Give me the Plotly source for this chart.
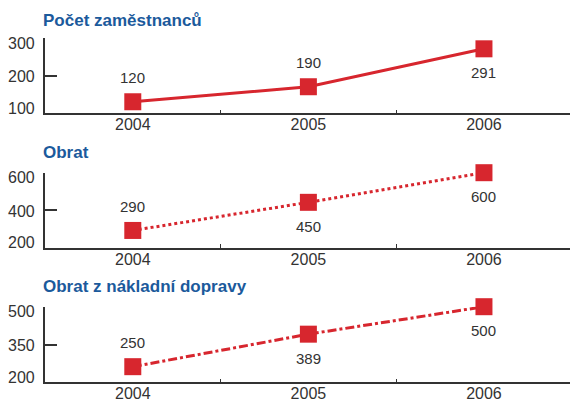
import plotly.graph_objects as go

years = ["2004", "2005", "2006"]
titles = ["Počet zaměstnanců", "Obrat", "Obrat z nákladní dopravy"]

emp_values = [131, 171, 272]
emp_labels = ["120", "190", "291"]
turn_values = [292, 442, 600]
turn_labels = ["290", "450", "600"]
freight_values = [262, 391, 500]
freight_labels = ["250", "389", "500"]

y_ticks = [[100, 200, 300], [200, 400, 600], [200, 350, 500]]
label_side = [["above", "above", "below"], ["above", "below", "below"], ["above", "below", "below"]]

series = [emp_values, turn_values, freight_values]
labels = [emp_labels, turn_labels, freight_labels]
dashes = ["solid", "dot", "dashdot"]

RED = "#d7262e"
BLUE = "#1b5a9c"
DARK = "#333333"
FONT = "Liberation Sans, Arial, sans-serif"

W, H = 570, 401
# panel pixel boxes (top, bottom) from the top of the page
panels = [(38.3, 113.4), (172.7, 247.7), (306.7, 382.3)]
title_y = [20, 152, 286]
ytick_shift = [5, -1, -5]  # bottom, middle, top label nudges (px)

fig = go.Figure()
annotations = []
for i in range(3):
    xa = "x" if i == 0 else f"x{i+1}"
    ya = "y" if i == 0 else f"y{i+1}"
    xi = list(range(len(years)))
    fig.add_trace(go.Scatter(
        x=xi, y=series[i], xaxis=xa, yaxis=ya, mode="lines+markers",
        line=dict(color=RED, width=3, dash=dashes[i]),
        marker=dict(symbol="square", size=17, color=RED),
        cliponaxis=False, showlegend=False, hoverinfo="skip"))
    for j, (v, t) in enumerate(zip(series[i], labels[i])):
        shift = 24 if label_side[i][j] == "above" else -24
        annotations.append(dict(
            x=j, y=v, xref=xa, yref=ya, text=t, showarrow=False,
            yshift=shift, font=dict(family=FONT, size=15, color=DARK)))
    for k, tv in enumerate(y_ticks[i]):
        annotations.append(dict(
            x=37 / W, y=tv, xref="paper", yref=ya, text=str(tv),
            xanchor="right", yanchor="middle", showarrow=False,
            yshift=ytick_shift[k], font=dict(family=FONT, size=16, color=DARK)))
    top, bot = panels[i]
    dom = [(H - bot) / H, (H - top) / H]
    lo, hi = y_ticks[i][0], y_ticks[i][-1]
    axis_x = dict(
        domain=[45 / W, 1.0], range=[-0.5, 2.49], anchor=ya,
        tickvals=xi, ticktext=years, ticks="", ticklabelstandoff=-4,
        showline=True, linecolor=DARK, linewidth=1.5, showgrid=False,
        zeroline=False, tickfont=dict(family=FONT, size=16, color=DARK),
        minor=dict(tickvals=[0.5, 1.5], ticks="inside", ticklen=4,
                   tickcolor=DARK, tickwidth=1.2, showgrid=False),
        fixedrange=True)
    axis_y = dict(
        domain=dom, range=[lo, hi], anchor=xa,
        tickvals=y_ticks[i], ticks="inside", ticklen=12, tickwidth=1.5,
        tickcolor=DARK, showline=True, linecolor=DARK, linewidth=1.5,
        showgrid=False, zeroline=False, showticklabels=False,
        fixedrange=True)
    fig.update_layout(**{("xaxis" if i == 0 else f"xaxis{i+1}"): axis_x,
                         ("yaxis" if i == 0 else f"yaxis{i+1}"): axis_y})
    annotations.append(dict(
        x=41 / W, y=(H - title_y[i]) / H, xref="paper", yref="paper",
        xanchor="left", yanchor="middle", text=f"<b>{titles[i]}</b>",
        showarrow=False, font=dict(family=FONT, size=17, color=BLUE)))

fig.update_layout(
    width=W, height=H, margin=dict(l=0, r=0, t=0, b=0, autoexpand=False),
    paper_bgcolor="white", plot_bgcolor="white",
    annotations=annotations)

fig.write_html(
    "out.html",
    config={"displayModeBar": False},
    post_script="document.body.style.margin='0';document.body.style.overflow='hidden';",
)
